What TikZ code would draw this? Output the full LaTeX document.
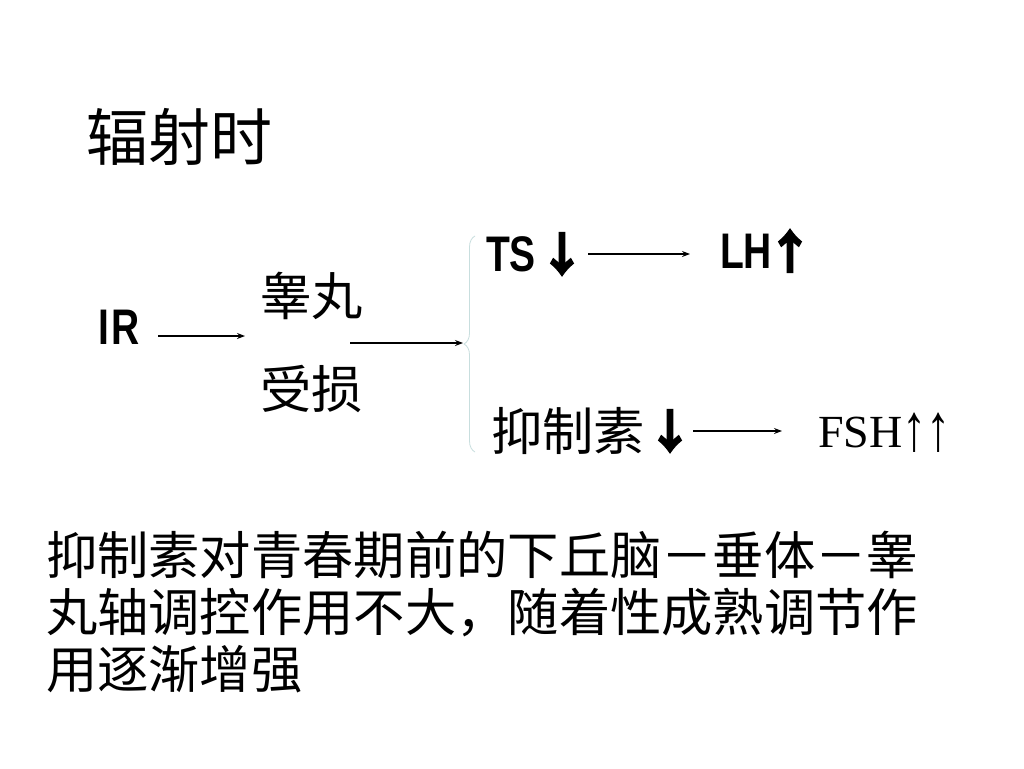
\documentclass[tikz,border=0pt]{standalone}
\usepackage{fontspec}
\setmainfont{Liberation Serif}
\newfontfamily\cjk{Noto Sans CJK SC}
\newfontfamily\cjkarr[FakeBold=4]{Noto Sans CJK SC Bold}
\newfontfamily\lat{Liberation Sans}
\usetikzlibrary{decorations.pathreplacing,calc,arrows.meta}
\begin{document}
\begin{tikzpicture}[x=1pt,y=-1pt,
  every node/.style={inner sep=0pt,outer sep=0pt},
  zh/.style={font=\cjk\fontsize{51.3}{57}\selectfont},
  lab/.style={font=\lat\bfseries\fontsize{50}{50}\selectfont,xscale=0.78,transform shape},
  bigarr/.style={font=\cjkarr\fontsize{46}{46}\selectfont},
  conn/.style={-{Stealth[length=8pt,width=6pt]},line width=1.3pt},
  bracecol/.style={draw={rgb,255:red,200;green,222;blue,222},line width=0.8pt}]
\useasboundingbox (0,0) rectangle (1024,768);
\fill[white] (0,0) rectangle (1024,768);
\node[anchor=west,font=\cjk\fontsize{62}{62}\selectfont] (title) at (86,137) {辐射时};
\node[anchor=west,lab] (IR) at (98,327) {I\kern3pt R};
\node[anchor=west,zh,align=left] (testis) at (260,342) {睾丸\\[36pt]受损};
\coordinate (irs) at (158,336);
\coordinate (ire) at (245,336);
\draw[conn] (irs) -- (ire);
\coordinate (ts0) at (350,343);
\coordinate (te0) at (463,343);
\draw[conn] (ts0) -- (te0);
\draw[bracecol,decorate,decoration={brace,amplitude=11pt}] (475,452) -- (475,236);
\node[anchor=west,lab] (TS) at (486,254) {TS};
\node[anchor=west,bigarr] (TSa) at (539,254) {↓};
\node[anchor=west,lab] (LH) at (720,251) {LH};
\node[anchor=west,bigarr] (LHa) at (767,251) {↑};
\draw[conn] (588,254) coordinate (tsl) -- (690,254) coordinate (lhl);
\node[anchor=west,zh] (inh) at (491,431) {抑制素};
\node[anchor=west,bigarr] (inha) at (647,431) {↓};
\node[anchor=west,font=\fontsize{46}{46}\selectfont] (FSH) at (818,433) {FSH\raisebox{-3pt}{\scalebox{1.05}[1.45]{↑↑}}};
\draw[conn] (693,431) coordinate (inl) -- (782,431) coordinate (fsl);
\node[anchor=west,zh,align=left] (para) at (46,612) {抑制素对青春期前的下丘脑－垂体－睾\\丸轴调控作用不大，随着性成熟调节作\\用逐渐增强};
\end{tikzpicture}
\end{document}
